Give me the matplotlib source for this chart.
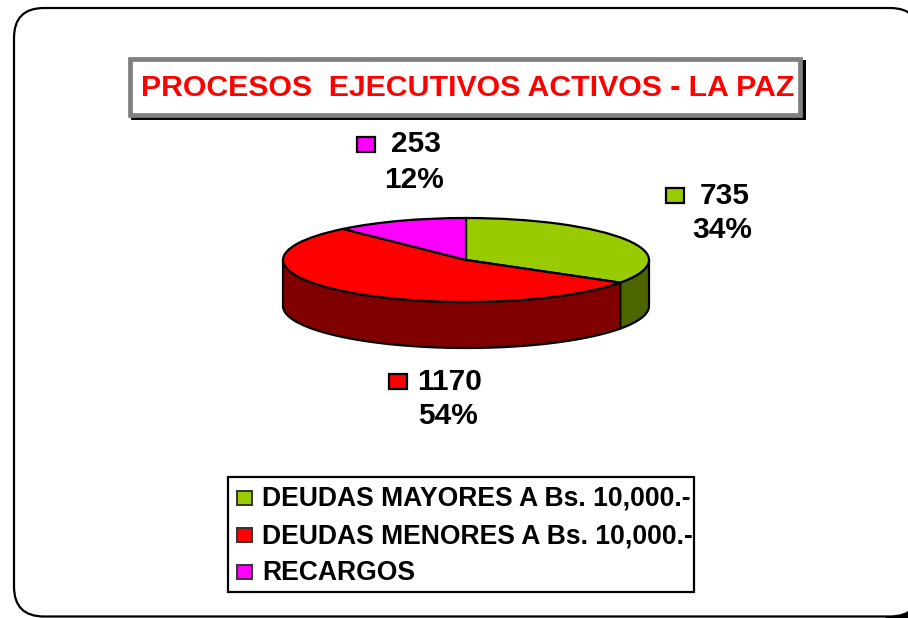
import numpy as np
import matplotlib
matplotlib.use("Agg")
import matplotlib.pyplot as plt
from matplotlib.patches import FancyBboxPatch, Rectangle, Polygon

title = "PROCESOS  EJECUTIVOS ACTIVOS - LA PAZ"
categories = ["DEUDAS MAYORES A Bs. 10,000.-", "DEUDAS MENORES A Bs. 10,000.-", "RECARGOS"]
values = [735, 1170, 253]
percents = ["34%", "54%", "12%"]
top_colors = ["#99CC00", "#FF0000", "#FF00FF"]
side_colors = ["#4D6600", "#800000", "#800080"]

W, H = 908, 618
plt.rcParams["font.family"] = ["Liberation Sans", "DejaVu Sans"]
plt.rcParams["font.weight"] = "bold"

fig = plt.figure(figsize=(W / 100, H / 100), dpi=100, facecolor="white")

# page in pixel coordinates
page = fig.add_axes([0, 0, 1, 1])
page.set_xlim(0, W)
page.set_ylim(H, 0)
page.axis("off")

# black corner sits under the white page, right edge of the page runs off the canvas
page.add_patch(Polygon([(885, 618), (908, 600), (908, 618)], fc="black", ec="none"))
page.add_patch(FancyBboxPatch((14, 8), 906, 608.5, boxstyle="round,pad=0,rounding_size=30",
                              fc="white", ec="black", lw=1.6))

# title box with shadow
page.add_patch(Rectangle((131, 60), 675, 60, fc="black", ec="none"))
page.add_patch(Rectangle((129.5, 59), 670.5, 55.5, fc="white", ec="#808080", lw=3.4))
page.text(467.5, 88, title, color="#FF0000", fontsize=21.8, ha="center", va="center")

# pie: top face
cx, cy, rx, ry, depth = 466, 260, 183, 42, 46
ax = fig.add_axes([(cx - rx) / W, 1 - (cy + ry) / H, 2 * rx / W, 2 * ry / H])
ax.pie(values, colors=top_colors, startangle=90, counterclock=False, radius=1,
       wedgeprops={"edgecolor": "black", "linewidth": 1.6, "zorder": 3})
ax.set_aspect("auto")
ax.set_xlim(-1, 1)
ax.set_ylim(-1, 1)
ax.axis("off")

# pie: visible side wall, front half only
d = depth / ry
edges = 90 - np.cumsum([0] + values) / sum(values) * 360
for i in range(len(values)):
    a0 = max(edges[i + 1], -180)
    a1 = min(edges[i], 0)
    if a0 >= a1:
        continue
    t = np.radians(np.linspace(a1, a0, 80))
    x = np.cos(t)
    y = np.sin(t)
    ax.fill(np.r_[x, x[::-1]], np.r_[y, y[::-1] - d], fc=side_colors[i], ec="black",
            lw=1.6, zorder=1, clip_on=False)

# value labels
label_pos = [(725, 196, 722, 230, 675, 195), (450, 382, 448, 416, 398, 381), (416, 144, 414, 180, 366, 144)]
for i, (vx, vy, px, py, mx, my) in enumerate(label_pos):
    page.text(vx, vy, str(values[i]), fontsize=21.5, ha="center", va="center", color="black")
    page.text(px, py, percents[i], fontsize=21.5, ha="center", va="center", color="black")
    page.add_patch(Rectangle((mx - 9, my - 7.5), 18, 15, fc=top_colors[i], ec="black", lw=1.6))

# legend
page.add_patch(Rectangle((228, 477), 466, 115, fc="white", ec="black", lw=1.6))
for i, name in enumerate(categories):
    y = 498 + i * 37
    page.add_patch(Rectangle((237, y - 7), 15, 14, fc=top_colors[i], ec="#333333", lw=1.4))
    page.text(262, y + 1, name, fontsize=19.1, ha="left", va="center", color="black")

fig.savefig("out.png", dpi=100)
